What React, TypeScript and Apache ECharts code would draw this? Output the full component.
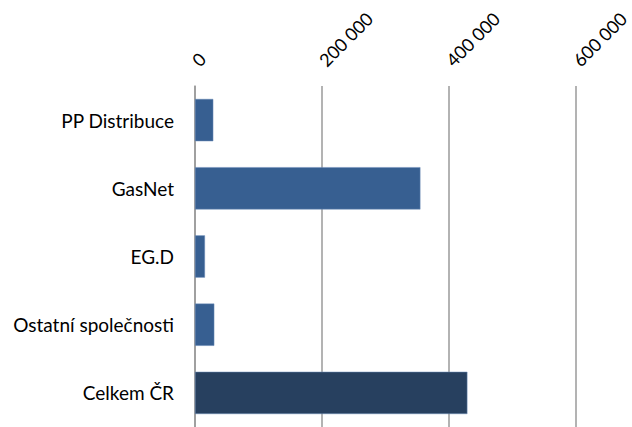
import React, { useEffect, useRef } from "react";
import * as echarts from "echarts";

const categories = ["PP Distribuce", "GasNet", "EG.D", "Ostatní společnosti", "Celkem ČR"];
const values = [28800, 355000, 15700, 30400, 429000];
const barColors = ["#375F91", "#375F91", "#375F91", "#375F91", "#27405F"];
const xMax = 600000;
const xInterval = 200000;

function formatNum(v: number): string {
  return String(v).replace(/\B(?=(\d{3})+(?!\d))/g, " ");
}

export default function App() {
  const ref = useRef<HTMLDivElement>(null);
  useEffect(() => {
    if (!ref.current) return;
    const chart = echarts.init(ref.current, null, { renderer: "svg" });
    chart.setOption({
      animation: false,
      backgroundColor: "#ffffff",
      grid: { left: 195, right: 55, top: 86, bottom: -2, containLabel: false },
      xAxis: {
        type: "value",
        position: "top",
        min: 0,
        max: xMax,
        interval: xInterval,
        axisLine: { show: false },
        axisTick: { show: false },
        splitLine: { show: true, lineStyle: { color: "#9a9a9a", width: 1.5 } },
        axisLabel: {
          rotate: -45,
          margin: 23,
          color: "#000000",
          fontFamily: "Lato",
          fontSize: 18,
          formatter: (v: number) => formatNum(v),
        },
      },
      yAxis: {
        type: "category",
        inverse: true,
        data: categories,
        axisLine: { show: true, lineStyle: { color: "#9a9a9a", width: 1.5 } },
        axisTick: { show: false },
        axisLabel: {
          margin: 21,
          color: "#000000",
          fontFamily: "Lato",
          fontSize: 19,
        },
      },
      series: [
        {
          type: "bar",
          barWidth: "62%",
          data: values.map((v, i) => ({
            value: v,
            itemStyle: { color: barColors[i], borderColor: "#6f8fba", borderWidth: 0.5 },
          })),
        },
      ],
    });
    return () => chart.dispose();
  }, []);
  return (
    <div
      ref={ref}
      style={{ position: "fixed", left: 0, top: 0, width: 632, height: 427 }}
    />
  );
}
